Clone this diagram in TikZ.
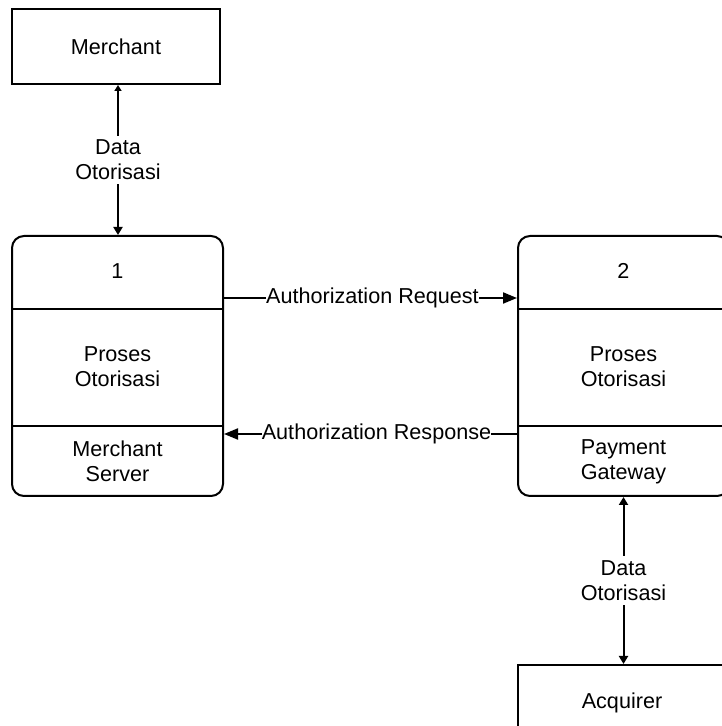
\documentclass[tikz,border=0pt]{standalone}
\usepackage{fontspec}
\setmainfont{Liberation Sans}
\usetikzlibrary{arrows.meta, positioning}

\tikzset{
  entity/.style={draw, line width=2pt, minimum width=208pt, minimum height=75pt},
  process/.style={draw, line width=2pt, rounded corners=12pt, minimum width=211pt, minimum height=260pt},
  flow/.style={line width=2pt},
  flowlabel/.style={fill=white, inner sep=0pt, align=center},
}

\begin{document}
\begin{tikzpicture}[x=1pt, y=1pt, font=\fontsize{21.6}{25}\selectfont]
\useasboundingbox (0,0) rectangle (722,726);

% External entities
\node[entity] (merchant) at (116,679.5) {Merchant};
\node[entity] (acquirer) at (622,23.5) {Acquirer};

% Processes
\node[process] (p1) at (117.5,360) {};
\node[process] (p2) at (623.5,360) {};

% Dividers inside the processes
\draw[flow] ([yshift=-74pt]p1.north west) -- ([yshift=-74pt]p1.north east);
\draw[flow] ([yshift=71pt]p1.south west) -- ([yshift=71pt]p1.south east);
\draw[flow] ([yshift=-74pt]p2.north west) -- ([yshift=-74pt]p2.north east);
\draw[flow] ([yshift=71pt]p2.south west) -- ([yshift=71pt]p2.south east);

% Process texts
\node (id1) at ([yshift=-36pt]p1.north) {1};
\node[align=center] (name1) at ([yshift=-131.5pt]p1.north) {Proses\\Otorisasi};
\node[align=center] (loc1) at ([yshift=35.5pt]p1.south) {Merchant\\Server};
\node (id2) at ([yshift=-36pt]p2.north) {2};
\node[align=center] (name2) at ([yshift=-131.5pt]p2.north) {Proses\\Otorisasi};
\node[align=center] (loc2) at ([yshift=35.5pt]p2.south) {Payment\\Gateway};

% Data flows
\draw[flow, {Triangle[length=6pt,width=7pt]}-{Triangle[length=8pt,width=9pt]}]
  ([xshift=2pt]merchant.south) -- node[flowlabel, inner sep=4pt] {Data\\Otorisasi} ([xshift=2pt]merchant.south |- p1.north);
\draw[flow, -{Triangle[length=14pt,width=11pt]}]
  ([yshift=-63pt]p1.north east) -- node[flowlabel, xshift=2pt] {Authorization Request} ([yshift=-63pt]p2.north west);
\draw[flow, -{Triangle[length=14pt,width=11pt]}]
  ([yshift=63pt]p2.south west) -- node[flowlabel, xshift=6pt] {Authorization Response} ([yshift=63pt]p1.south east);
\draw[flow, {Triangle[length=8pt,width=9pt]}-{Triangle[length=8pt,width=9pt]}]
  (p2.south) -- node[flowlabel, inner sep=4pt] {Data\\Otorisasi} (p2.south |- acquirer.north);
\end{tikzpicture}
\end{document}
